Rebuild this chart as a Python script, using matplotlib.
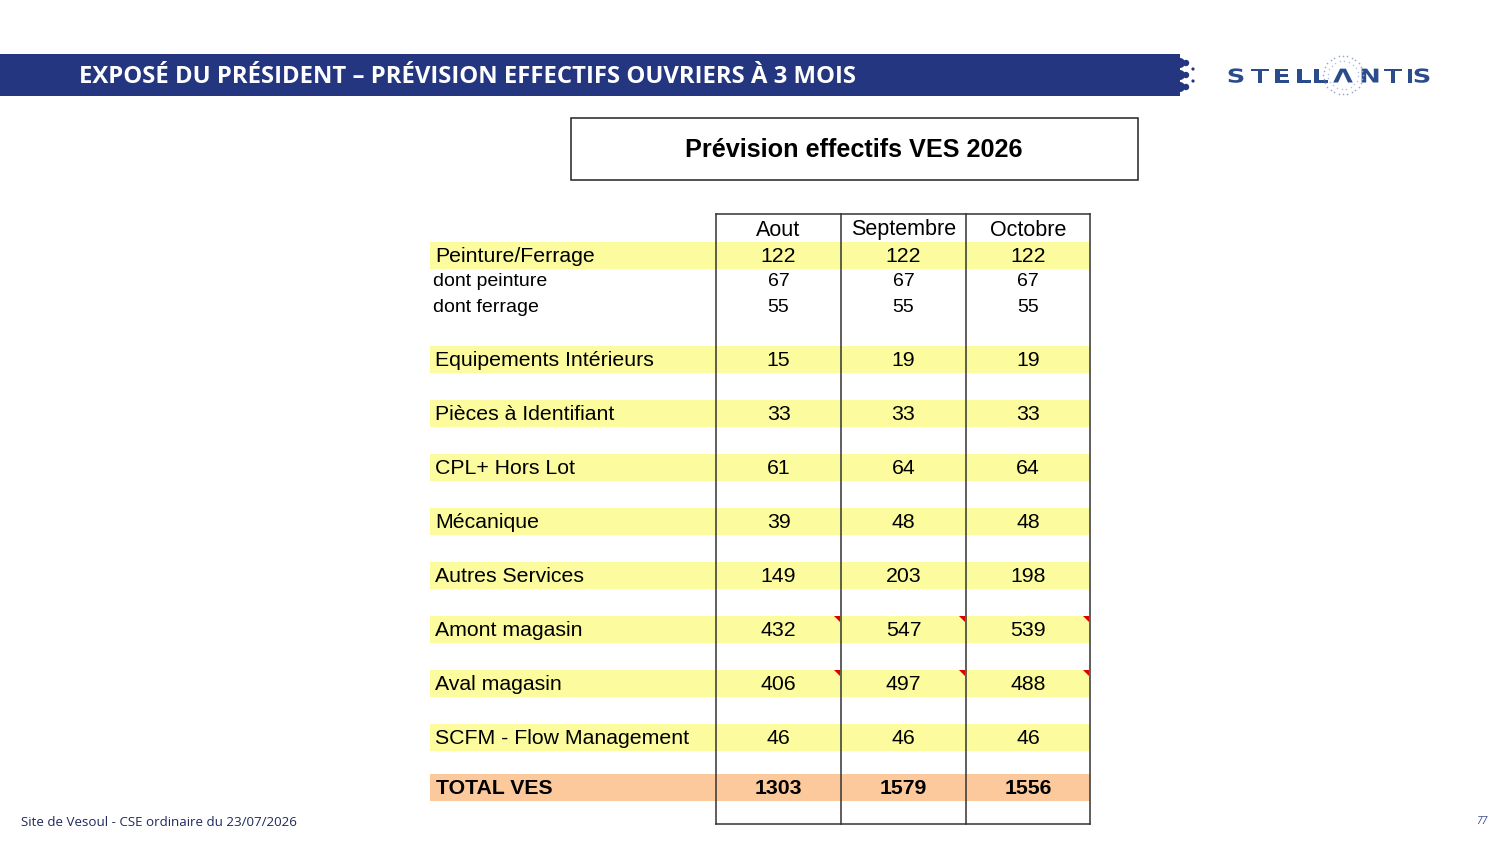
import matplotlib.pyplot as plt
from matplotlib.patches import Rectangle, Polygon, Circle, PathPatch
from matplotlib.textpath import TextPath
from matplotlib.font_manager import FontProperties
from matplotlib.transforms import Affine2D
import numpy as np

# donnees du tableau
months = ['Aout', 'Septembre', 'Octobre']
categories = ['Peinture/Ferrage', 'dont peinture', 'dont ferrage', 'Equipements Intérieurs',
              'Pièces à Identifiant', 'CPL+ Hors Lot', 'Mécanique', 'Autres Services',
              'Amont magasin', 'Aval magasin', 'SCFM - Flow Management', 'TOTAL VES']
kinds = ['main', 'sub', 'sub', 'main', 'main', 'main', 'main', 'main',
         'main', 'main', 'main', 'total']
aout = [122, 67, 55, 15, 33, 61, 39, 149, 432, 406, 46, 1303]
septembre = [122, 67, 55, 19, 33, 64, 48, 203, 547, 497, 46, 1579]
octobre = [122, 67, 55, 19, 33, 64, 48, 198, 539, 488, 46, 1556]
commented = ['Amont magasin', 'Aval magasin']

header_title = 'EXPOSÉ DU PRÉSIDENT – PRÉVISION EFFECTIFS OUVRIERS À 3 MOIS'
box_title = 'Prévision effectifs VES 2026'
footer = 'Site de Vesoul - CSE ordinaire du 23/07/2026'
page = '77'
logo = 'STELLΛNTIS'

NAVY = '#243680'
YELLOW = '#FCFC9E'
ORANGE = '#FBC99B'
LINE = '#333333'

fig = plt.figure(figsize=(15.01, 8.42), dpi=100)
ax = fig.add_axes([0, 0, 1, 1])
ax.set_xlim(0, 1501)
ax.set_ylim(842, 0)
ax.axis('off')

# bandeau titre
ax.add_patch(Rectangle((0, 54), 1180, 42, color=NAVY, lw=0))
for yy in [63, 75, 87]:
    ax.add_patch(Circle((1180, yy), 5, color=NAVY, lw=0))
    ax.add_patch(Circle((1186, yy), 3.2, color=NAVY, lw=0))
for yy in [69, 81]:
    ax.add_patch(Circle((1193, yy), 1.6, color=NAVY, lw=0))
ax.text(79, 77, header_title, color='white', fontsize=17.2, fontweight='bold',
        family='Open Sans', ha='left', va='center')

# logo : lettres elargies
fp = FontProperties(family='DejaVu Sans', weight='bold')
logo_x = [1236, 1260, 1282, 1304, 1321, 1343, 1370, 1393, 1410, 1422]
for lx, ch in zip(logo_x, logo):
    tp = TextPath((0, 0), ch, size=19, prop=fp)
    bb = tp.get_extents()
    tr = Affine2D().translate(-(bb.x0 + bb.x1) / 2, 0).scale(1.35, -1).translate(lx, 82.5)
    ax.add_patch(PathPatch(tr.transform_path(tp), color='#2B4C8C', lw=0))
ang = np.linspace(0, 2 * np.pi, 28, endpoint=False)
ax.scatter(1343 + 20 * np.cos(ang), 75 + 19 * np.sin(ang), s=1.5, color='#9AAACC', lw=0)
ang = np.linspace(0, 2 * np.pi, 20, endpoint=False) + 0.1
ax.scatter(1343 + 15 * np.cos(ang), 75 + 14 * np.sin(ang), s=1.2, color='#B5C2DD', lw=0)

# cadre du titre
ax.add_patch(Rectangle((571, 118), 567, 62, fill=False, ec='#222222', lw=1.1))
ax.text(854, 150, box_title, fontsize=18.2, fontweight='bold', family='Liberation Sans',
        ha='center', va='center')

# tableau
col_edges = [716, 841, 966, 1090]
col_centers = [(col_edges[i] + col_edges[i + 1]) / 2 for i in range(3)]
label_left = 430
top = 214

for xc, m in zip(col_centers, months):
    ax.text(xc, 230, m, fontsize=15.5, family='Liberation Sans', ha='center', va='center')

y = 242
for i, (cat, kind) in enumerate(zip(categories, kinds)):
    if i > 0 and kind != 'sub':
        y += 23 if kind == 'total' else 27
    h = 25 if kind == 'sub' else 27
    yc = y + h / 2
    vals = [aout[i], septembre[i], octobre[i]]
    if kind == 'main':
        ax.add_patch(Rectangle((label_left, y), col_edges[-1] - label_left, h, color=YELLOW, lw=0))
        ax.text(435, yc + 1.5, cat, fontsize=15.3, family='Liberation Sans', ha='left', va='center')
        for xc, v in zip(col_centers, vals):
            ax.text(xc, yc + 1.5, str(v), fontsize=15.3, family='Liberation Sans', ha='center', va='center')
    elif kind == 'sub':
        ax.text(433, yc + 0.5, cat, fontsize=14, family='Liberation Sans', ha='left', va='center')
        for xc, v in zip(col_centers, vals):
            ax.text(xc, yc + 0.5, str(v), fontsize=14, family='Liberation Sans', ha='center', va='center')
    else:
        ax.add_patch(Rectangle((label_left, y), col_edges[-1] - label_left, h, color=ORANGE, lw=0))
        ax.text(436, yc + 1.5, cat, fontsize=15.3, fontweight='bold', family='Liberation Sans',
                ha='left', va='center')
        for xc, v in zip(col_centers, vals):
            ax.text(xc, yc + 1.5, str(v), fontsize=15.3, fontweight='bold', family='Liberation Sans',
                    ha='center', va='center')
    if cat in commented:
        for xe in col_edges[1:]:
            ax.add_patch(Polygon([(xe - 7, y), (xe - 1, y), (xe - 1, y + 6)], color='#E00000', lw=0))
    y += h

bottom = y + 23
for xe in col_edges:
    ax.plot([xe, xe], [top, bottom], color=LINE, lw=1.1, solid_capstyle='projecting')
ax.plot([col_edges[0], col_edges[-1]], [top, top], color=LINE, lw=1.1)
ax.plot([col_edges[0], col_edges[-1]], [bottom, bottom], color=LINE, lw=1.1)

# pied de page
ax.text(21, 823, footer, fontsize=9.6, family='Open Sans', color='#1F2A5C', ha='left', va='center')
ax.text(1482, 822, page, fontsize=7.5, family='Open Sans', color='#3C4A8A', ha='center',
        va='center', style='italic')

fig.savefig('out.png', dpi=100)
